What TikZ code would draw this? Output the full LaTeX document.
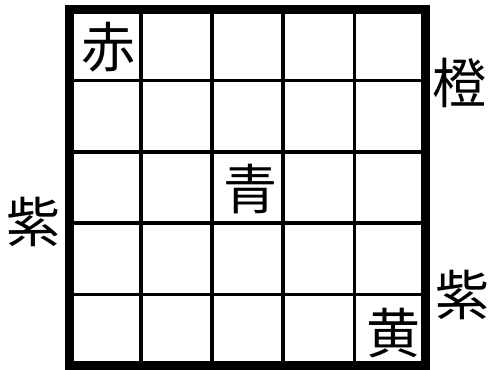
\documentclass[tikz,border=0pt]{standalone}
\usepackage{fontspec}
\newfontfamily\cjk{Noto Sans CJK JP}
\usetikzlibrary{positioning}
\tikzset{
  gridline/.style={draw=black, line width=1.8pt},
  frame/.style={draw=black, line width=4.5pt},
  kanji/.style={font=\cjk\fontsize{27}{27}\selectfont, inner sep=0pt},
  side/.style={kanji}
}

\begin{document}
\begin{tikzpicture}[x=0.5pt,y=-0.5pt]
  \useasboundingbox (0,0) rectangle (491,369);
  % 5x5 board
  \foreach \i in {1,...,4} {
    \draw[gridline] (69.5+71.2*\i,9.5) -- (69.5+71.2*\i,365.5);
    \draw[gridline] (69.5,9.5+71.2*\i) -- (425.5,9.5+71.2*\i);
  }
  \draw[frame] (69.5,9.5) rectangle (425.5,365.5);
  % pieces on the board
  \node[kanji] (aka) at (108,47) {赤};
  \node[kanji] (ao) at (250,189) {青};
  \node[kanji] (ki) at (393,333) {黄};
  % colours beside the board
  \node[side] (daidai) at (459,83) {橙};
  \node[side] (murasakiR) at (462,295) {紫};
  \node[side] (murasakiL) at (33,222) {紫};
\end{tikzpicture}
\end{document}
